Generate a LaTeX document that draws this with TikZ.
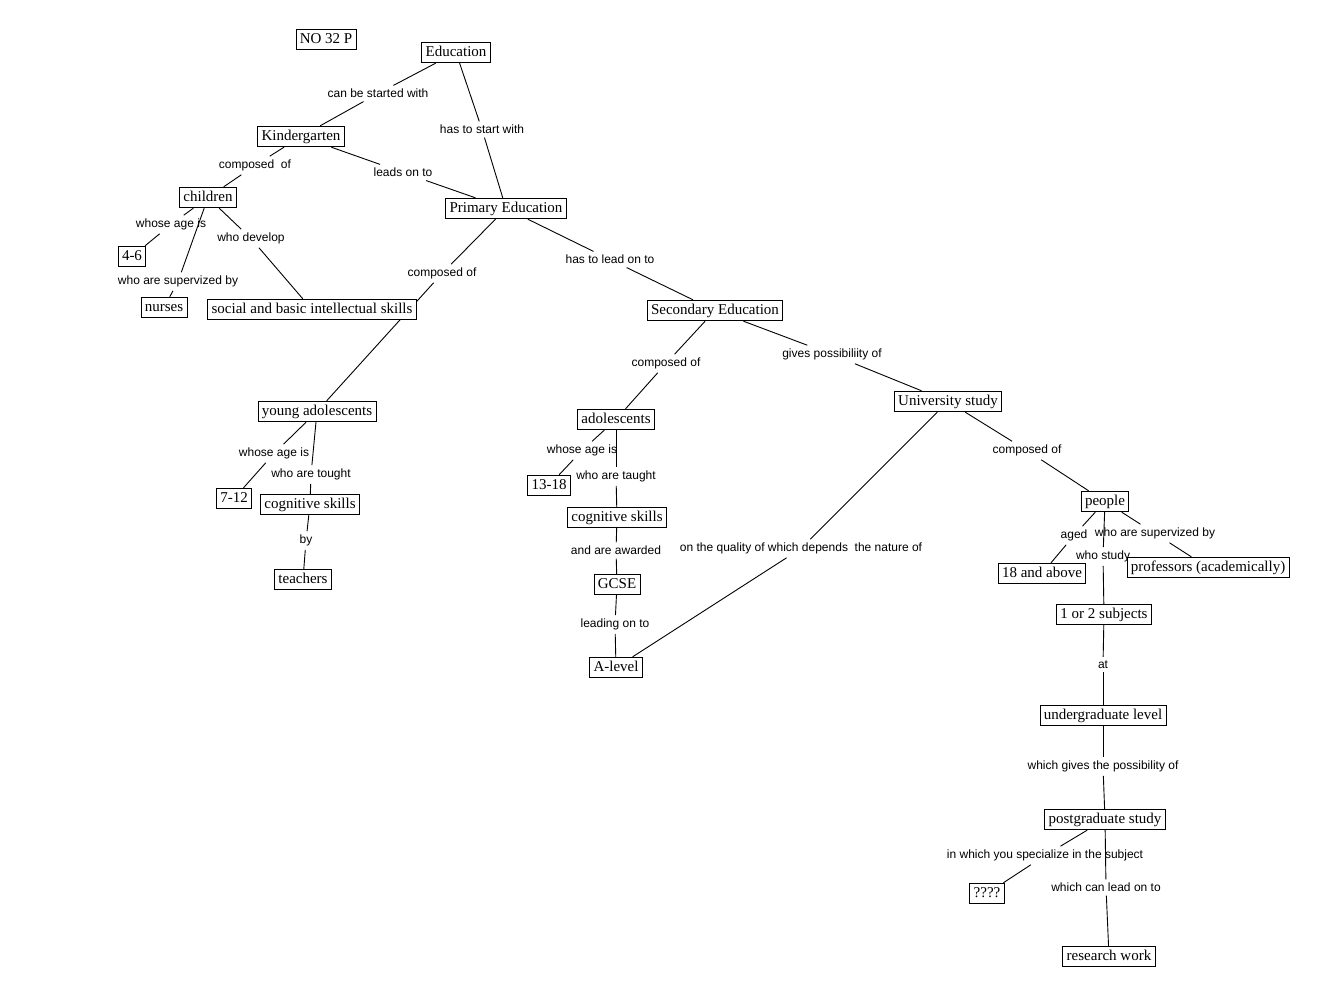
\documentclass[tikz,border=0pt]{standalone}
\usepackage{fontspec}
\setmainfont{Liberation Serif}
\newfontfamily\labfont{Liberation Sans}
\usetikzlibrary{backgrounds}
\begin{document}
\begin{tikzpicture}[x=1pt,y=-1pt,
  concept/.style={draw,fill=white,line width=0.9pt,font=\fontsize{15}{17}\selectfont,inner xsep=3.8pt,inner ysep=3.5pt,text height=10.5pt,text depth=3pt},
  lab/.style={font=\labfont\fontsize{12}{14}\selectfont,inner sep=3.5pt},
  conn/.style={line width=0.9pt}]
\useasboundingbox (0,-1.5) rectangle (1335,1004.5);
% concepts
\node[concept] (no)    at (326,38)  {NO 32 P};
\node[concept] (edu)   at (456,51)  {Education};
\node[concept] (kg)    at (301,135) {Kindergarten};
\node[concept] (ch)    at (208,196) {children};
\node[concept] (a46)   at (132,255) {4-6};
\node[concept] (nur)   at (164,306) {nurses};
\node[concept] (soc)   at (312,308) {social and basic intellectual skills};
\node[concept] (pe)    at (506,207) {Primary Education};
\node[concept] (se)    at (715,309) {Secondary Education};
\node[concept] (uni)   at (948,400) {University study};
\node[concept] (ya)    at (317,410) {young adolescents};
\node[concept] (a712)  at (234,497) {7-12};
\node[concept] (cs1)   at (310,503) {cognitive skills};
\node[concept] (tea)   at (303,578) {teachers};
\node[concept] (ado)   at (616,418) {adolescents};
\node[concept] (a1318) at (549,484) {13-18};
\node[concept] (cs2)   at (617,516) {cognitive skills};
\node[concept] (gcse)  at (617,583) {GCSE};
\node[concept] (alev)  at (616,666) {A-level};
\node[concept] (peo)   at (1105,500) {people};
\node[concept] (a18)   at (1042,572) {18 and above};
\node[concept] (prof)  at (1208,566) {professors (academically)};
\node[concept] (subj)  at (1104,613) {1 or 2 subjects};
\node[concept] (ug)    at (1103,714) {undergraduate level};
\node[concept] (pg)    at (1105,818) {postgraduate study};
\node[concept] (qq)    at (987,892)  {????};
\node[concept] (rw)    at (1109,955) {research work};
% linking phrases
\node[lab] (l1)  at (378,92)   {can be started with};
\node[lab] (l2)  at (482,128)  {has to start with};
\node[lab] (l3)  at (255,164)  {composed\ \ of};
\node[lab] (l4)  at (403,171)  {leads on to};
\node[lab] (l5)  at (171,223)  {whose age is};
\node[lab] (l6)  at (251,237)  {who develop};
\node[lab] (l7)  at (178,280)  {who are supervized by};
\node[lab] (l8)  at (442,272)  {composed of};
\node[lab] (l9)  at (610,258)  {has to lead on to};
\node[lab] (l10) at (666,362)  {composed of};
\node[lab] (l11) at (832,353)  {gives possibiliity of};
\node[lab] (l12) at (274,452)  {whose age is};
\node[lab] (l13) at (311,473)  {who are tought};
\node[lab] (l14) at (306,539)  {by};
\node[lab] (l15) at (582,449)  {whose age is};
\node[lab] (l16) at (616,475)  {who are taught};
\node[lab] (l17) at (616,549)  {and are awarded};
\node[lab] (l18) at (615,623)  {leading on to};
\node[lab] (l19) at (801,547)  {on the quality of which depends\ \ the nature of};
\node[lab] (l20) at (1027,449) {composed of};
\node[lab] (l21) at (1074,534) {aged};
\node[lab] (l22) at (1155,532) {who are supervized by};
\node[lab] (l23) at (1103,555) {who study};
\node[lab] (l24) at (1103,663) {at};
\node[lab] (l25) at (1103,765) {which gives the possibility of};
\node[lab] (l26) at (1045,854) {in which you specialize in the subject};
\node[lab] (l27) at (1106,886) {which can lead on to};
% connectors
\begin{pgfonlayer}{background}
\draw[conn] (edu) -- (l1);  \draw[conn] (l1) -- (kg);
\draw[conn] (edu) -- (l2);  \draw[conn] (l2) -- (pe);
\draw[conn] (kg) -- (l3);   \draw[conn] (l3) -- (ch);
\draw[conn] (kg) -- (l4);   \draw[conn] (l4) -- (pe);
\draw[conn] (ch) -- (l5);   \draw[conn] (l5) -- (a46);
\draw[conn] (ch) -- (l6);   \draw[conn] (l6) -- (soc);
\draw[conn] (ch) -- (l7);   \draw[conn] (l7) -- (nur);
\draw[conn] (pe) -- (l8);   \draw[conn] (l8) -- (ya);
\draw[conn] (pe) -- (l9);   \draw[conn] (l9) -- (se);
\draw[conn] (se) -- (l10);  \draw[conn] (l10) -- (ado);
\draw[conn] (se) -- (l11);  \draw[conn] (l11) -- (uni);
\draw[conn] (ya) -- (l12);  \draw[conn] (l12) -- (a712);
\draw[conn] (ya) -- (l13);  \draw[conn] (l13) -- (cs1);
\draw[conn] (cs1) -- (l14); \draw[conn] (l14) -- (tea);
\draw[conn] (ado) -- (l15); \draw[conn] (l15) -- (a1318);
\draw[conn] (ado) -- (l16); \draw[conn] (l16) -- (cs2);
\draw[conn] (cs2) -- (l17); \draw[conn] (l17) -- (gcse);
\draw[conn] (gcse) -- (l18); \draw[conn] (l18) -- (alev);
\draw[conn] (uni) -- (l19); \draw[conn] (l19) -- (alev);
\draw[conn] (uni) -- (l20); \draw[conn] (l20) -- (peo);
\draw[conn] (peo) -- (l21); \draw[conn] (l21) -- (a18);
\draw[conn] (peo) -- (l22); \draw[conn] (l22) -- (prof);
\draw[conn] (peo) -- (l23); \draw[conn] (l23) -- (subj);
\draw[conn] (subj) -- (l24); \draw[conn] (l24) -- (ug);
\draw[conn] (ug) -- (l25);  \draw[conn] (l25) -- (pg);
\draw[conn] (pg) -- (l26);  \draw[conn] (l26) -- (qq);
\draw[conn] (pg) -- (l27);  \draw[conn] (l27) -- (rw);
\end{pgfonlayer}
\end{tikzpicture}
\end{document}
